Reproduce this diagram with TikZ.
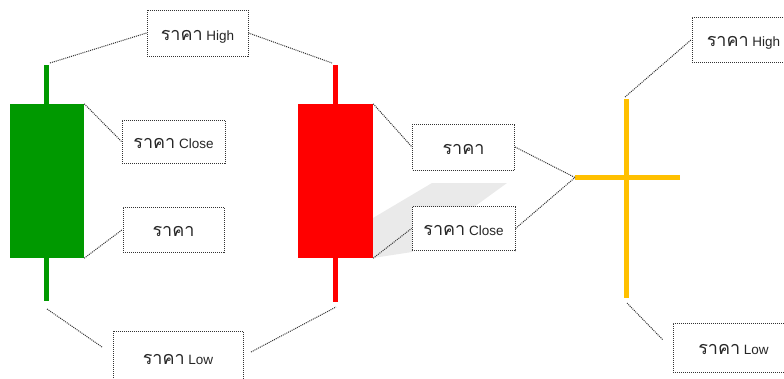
\documentclass[tikz,border=0pt]{standalone}
\usepackage{fontspec}
\setmainfont{Liberation Sans}
\newfontfamily\thaifont[Script=Thai]{Loma}
\usetikzlibrary{positioning}

\definecolor{candlegreen}{RGB}{0,153,0}
\definecolor{candlered}{RGB}{255,0,0}
\definecolor{dojiyellow}{RGB}{255,192,0}
\definecolor{shadowgray}{RGB}{234,234,234}

\newcommand{\rakaword}{{\thaifont\fontsize{18}{19}\selectfont ราคา}}

\tikzset{
    pricebox/.style={rectangle, draw=black!80, densely dotted, line width=1pt, fill=white,
        text=black!85, inner sep=0pt, font=\fontsize{13.5}{15}\selectfont,
        text height=16pt, text depth=2pt}, % baseline sits below the middle
    link/.style={draw=black!80, densely dotted, line width=1pt},
    wick/.style={line width=5pt},
    body/.style={rectangle, inner sep=0pt, draw=none}
}

\begin{document}
\begin{tikzpicture}[x=1pt, y=-1pt]
    \useasboundingbox (0,0) rectangle (784,378);
    \clip (0,0) rectangle (784,378);

    % shadow behind the red candle
    \fill[shadowgray] (373,258) -- (373,218) -- (432,183) -- (507,183) -- (412,252) -- cycle;

    % green candle
    \draw[wick, candlegreen] (46.5,65) -- (46.5,301);
    \node (gBody) [body, fill=candlegreen, minimum width=74pt, minimum height=154pt] at (47,181) {};

    % red candle
    \draw[wick, candlered] (335.5,65) -- (335.5,302);
    \node (rBody) [body, fill=candlered, minimum width=75pt, minimum height=154pt] at (335.5,181) {};

    % doji cross
    \coordinate (xLeft) at (575,177.5);
    \coordinate (xRight) at (680,177.5);
    \draw[wick, dojiyellow] (626.5,99) -- (626.5,298);
    \draw[wick, dojiyellow] (xLeft) -- (xRight);

    % labels
    \node (hiL) [pricebox, minimum width=101pt, minimum height=46pt] at (197.5,33) {\rakaword{} High};
    \node (clG) [pricebox, minimum width=103pt, minimum height=43pt] at (173.5,141.5) {\rakaword{} Close};
    \node (opG) [pricebox, minimum width=101pt, minimum height=45pt] at (173.5,229.5) {\rakaword};
    \node (loL) [pricebox, minimum width=130pt, minimum height=52pt] at (178,357) {\rakaword{} Low};
    \node (opR) [pricebox, minimum width=102pt, minimum height=46pt] at (463.5,147) {\rakaword};
    \node (clR) [pricebox, minimum width=103pt, minimum height=44pt] at (463.5,228.5) {\rakaword{} Close};
    \node (hiR) [pricebox, minimum width=103pt, minimum height=45pt] at (743.5,39.5) {\rakaword{} High};
    \node (loR) [pricebox, minimum width=121pt, minimum height=49pt] at (733.5,347.5) {\rakaword{} Low};

    % free ends of the connectors
    \coordinate (gHigh) at (50,63);
    \coordinate (rHigh) at (332,63);
    \coordinate (gLow) at (47,309);
    \coordinate (gLowEnd) at (102,347);
    \coordinate (rLowEnd) at (251,352);
    \coordinate (rLow) at (336,307);
    \coordinate (xTop) at (625,97);
    \coordinate (xBot) at (627,303);
    \coordinate (xBotEnd) at (663,340);

    % connectors
    \draw[link] (gHigh) -- (hiL.west);
    \draw[link] (hiL.east) -- (rHigh);
    \draw[link] (gBody.north east) -- (clG.west);
    \draw[link] (gBody.south east) -- (opG.west);
    \draw[link] (gLow) -- (gLowEnd);
    \draw[link] (rLowEnd) -- (rLow);
    \draw[link] (rBody.north east) -- (opR.west);
    \draw[link] (rBody.south east) -- (clR.west);
    \draw[link] (opR.east) -- (xLeft);
    \draw[link] (clR.east) -- (xLeft);
    \draw[link] (xTop) -- (hiR.west);
    \draw[link] (xBot) -- (xBotEnd);
\end{tikzpicture}
\end{document}
